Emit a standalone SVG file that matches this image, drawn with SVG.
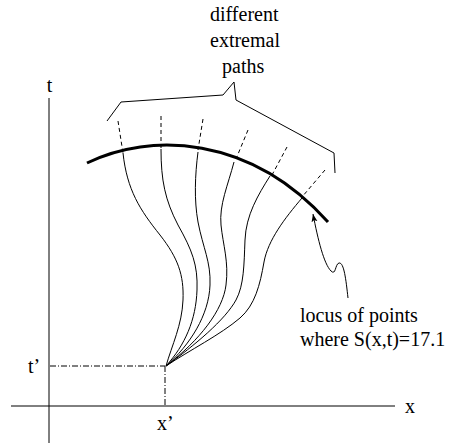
<svg xmlns="http://www.w3.org/2000/svg" width="451" height="443" viewBox="0 0 451 443">
<style>
.ln{fill:none;stroke:#000;stroke-width:1}
.dash{fill:none;stroke:#000;stroke-width:1;stroke-dasharray:4 3}
.dd{fill:none;stroke:#000;stroke-width:1;stroke-dasharray:6 2 1 2}
.thick{fill:none;stroke:#000;stroke-width:3}
text{font-family:"Liberation Serif","Times New Roman",serif;font-size:20px;fill:#000}
</style>
<defs>
<marker id="ah" markerUnits="userSpaceOnUse" markerWidth="10" markerHeight="8" refX="8" refY="3" orient="auto">
<path d="M0,0 L8,3 L0,6 L2,3 z" fill="#000"/>
</marker>
</defs>
<rect width="451" height="443" fill="#fff"/>
<g id="axes">
<line class="ln" x1="49" y1="98" x2="49" y2="443"/>
<line class="ln" x1="11" y1="406" x2="395" y2="406"/>
<text x="49.5" y="92" text-anchor="middle">t</text>
<text x="405" y="413">x</text>
</g>
<g id="origin">
<line class="dd" x1="50" y1="366" x2="165" y2="366"/>
<line class="dd" x1="165" y1="366" x2="165" y2="406"/>
<text x="28" y="373">t’</text>
<text x="157" y="430">x’</text>
</g>
<g id="locus">
<path class="thick" d="M87,163 C150,132 250,135 328,222"/>
</g>
<g id="paths">
<path class="ln" d="M123,153 C127,190 140,210 160,235 C178,258 184,275 183,300 C182,325 172,345 166,366"/>
<path class="ln" d="M161,149 C161,180 165,200 178,225 C192,250 198,265 197,290 C196,320 185,345 166,366"/>
<path class="ln" d="M198,152 C195,175 194,200 198,222 C203,248 211,262 210,285 C209,315 190,345 166,366"/>
<path class="ln" d="M234,162 C228,185 219,205 221,225 C223,245 229,262 226,285 C223,310 200,340 166,366"/>
<path class="ln" d="M270,176 C258,195 246,215 245,240 C244,265 244,285 236,300 C225,320 195,345 166,366"/>
<path class="ln" d="M302,198 C285,218 268,240 264,262 C260,285 255,305 240,318 C220,335 190,350 166,366"/>
<line class="dash" x1="118" y1="121" x2="123" y2="153"/>
<line class="dash" x1="161" y1="116" x2="161" y2="148"/>
<line class="dash" x1="203" y1="119" x2="198" y2="150"/>
<line class="dash" x1="248" y1="130" x2="236" y2="159"/>
<line class="dash" x1="287" y1="147" x2="272" y2="175"/>
<line class="dash" x1="325" y1="170" x2="302" y2="197"/>
</g>
<g id="bracket-label">
<polyline class="ln" points="107,121 121,102 223,95 234,82 236,100 334,153 335,173"/>
<text x="210" y="21">different</text>
<text x="210" y="47">extremal</text>
<text x="222" y="73">paths</text>
</g>
<g id="connectors">
<path class="ln" d="M348,298 C346,280 344,262 339,263 C335,264 336,276 331,271 C324,264 318,240 313,214" marker-end="url(#ah)"/>
</g>
<g id="locus-label">
<text x="300" y="322">locus of points</text>
<text x="300" y="346">where S(x,t)=17.1</text>
</g>
</svg>
